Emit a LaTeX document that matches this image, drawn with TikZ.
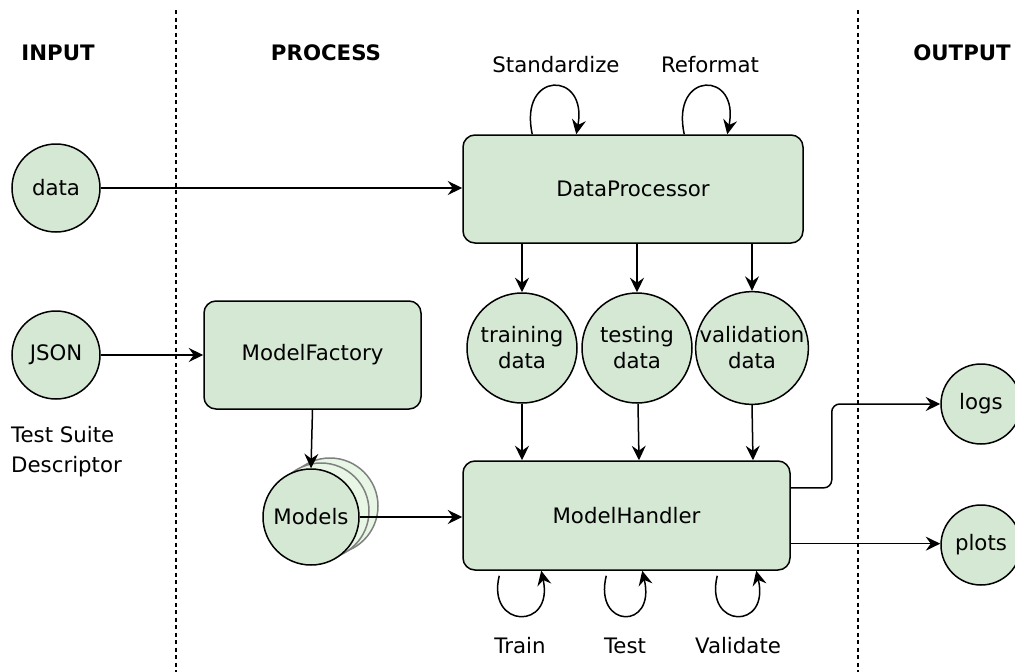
\documentclass[tikz,border=0pt]{standalone}
\usepackage{fontspec}
\setmainfont{DejaVu Sans}
\usetikzlibrary{arrows.meta,calc}
\definecolor{boxgreen}{HTML}{D5E8D4}
\definecolor{ghostgreen}{HTML}{E7F6E5}
\definecolor{ghostline}{HTML}{808080}
\begin{document}
\begin{tikzpicture}[x=1pt,y=-1pt,
  font=\fontsize{21.3}{26}\selectfont,
  >={Stealth[length=14.5pt,width=14pt,inset=5pt]},
  conn/.style={draw,line width=1.5pt,->},
  procbox/.style={draw,line width=1.5pt,fill=boxgreen,rounded corners=12pt,inner sep=0pt},
  datanode/.style={draw,line width=1.5pt,fill=boxgreen,circle,inner sep=0pt,align=center},
  ghost/.style={draw=ghostline,line width=1.5pt,fill=ghostgreen,circle,inner sep=0pt},
  heading/.style={font=\fontsize{21.3}{26}\selectfont\bfseries},
  divider/.style={line width=1.4pt,dash pattern=on 4pt off 3.5pt}]
\useasboundingbox (0,0) rectangle (1015,672);

% column dividers
\draw[divider] (176,10) -- (176,672);
\draw[divider] (858,10) -- (858,672);

% column headings
\node[heading] (hin) at (58,53) {INPUT};
\node[heading] (hproc) at (326,53) {PROCESS};
\node[heading] (hout) at (962,53) {OUTPUT};

% inputs
\node[datanode,minimum size=88pt] (data) at (56,188) {data};
\node[datanode,minimum size=88pt] (json) at (56,355) {JSON};
\node[align=left,anchor=north west,inner sep=0pt,font=\fontsize{21.3}{30}\selectfont] (desc) at (11,426) {Test Suite\\Descriptor};

% process blocks
\node[procbox,minimum width=340pt,minimum height=108pt] (dp) at (633,189) {DataProcessor};
\node[procbox,minimum width=217pt,minimum height=108pt] (mf) at (312.5,355) {ModelFactory};
\node[procbox,minimum width=327pt,minimum height=109pt] (mh) at (626.5,515.5) {ModelHandler};

% stacked model circles
\node[ghost,minimum size=96pt] (models3) at (330,506) {};
\node[ghost,minimum size=96pt] (models2) at (321,511) {};
\node[datanode,minimum size=96pt] (models) at (311,517) {Models};

% data splits
\node[datanode,minimum size=110pt] (train) at (522,348) {training\\data};
\node[datanode,minimum size=110pt] (test) at (637,348) {testing\\data};
\node[datanode,minimum size=110pt] (valid) at (752,348) {validation\\data};

% outputs
\node[datanode,minimum size=80pt] (logs) at (981,404) {logs};
\node[datanode,minimum size=80pt] (plots) at (981,545) {plots};

% loop labels
\node (lstd) at (556,65) {Standardize};
\node (lref) at (710,65) {Reformat};
\node (ltrain) at (520,646) {Train};
\node (ltest) at (625,646) {Test};
\node (lvalid) at (738,646) {Validate};

% main flow
\draw[conn] (data.east) -- (dp.west |- data.east);
\draw[conn] (json.east) -- (mf.west |- json.east);
\draw[conn] (mf.south) -- (models.north);
\draw[conn] (models.east) -- (mh.west |- models.east);

\draw[conn] (dp.south -| train) -- (train.north);
\draw[conn] (dp.south -| test) -- (test.north);
\draw[conn] (dp.south -| valid) -- (valid.north);
\draw[conn] (train.south) -- (mh.north -| train);
\draw[conn] ($(test.south)+(1,0)$) -- ($(mh.north -| test)+(2,0)$);
\draw[conn] (valid.south) -- ($(mh.north -| valid)+(1,0)$);

\coordinate (tologs) at ($(mh.north east)!0.25!(mh.south east)$);
\coordinate (toplots) at ($(mh.north east)!0.755!(mh.south east)$);
\draw[conn,rounded corners=8pt] (tologs) -- ++(41,0) |- (logs.west);
\draw[conn] (toplots) -- (plots.west |- toplots);

% self loops on the data processor
\draw[conn] ($(dp.north west)+(70,0)$) .. controls ($(dp.north west)+(56,-64)$) and ($(dp.north west)+(126,-64)$) .. ($(dp.north west)+(114,0)$);
\draw[conn] ($(dp.north west)+(222,0)$) .. controls ($(dp.north west)+(208,-64)$) and ($(dp.north west)+(278,-64)$) .. ($(dp.north west)+(265,0)$);

% self loops on the model handler
\draw[conn] ($(mh.south west)+(37,5)$) .. controls ($(mh.south west)+(24,58)$) and ($(mh.south west)+(92,60)$) .. ($(mh.south west)+(79,0)$);
\draw[conn] ($(mh.south west)+(144,5)$) .. controls ($(mh.south west)+(131,58)$) and ($(mh.south west)+(194,60)$) .. ($(mh.south west)+(180,0)$);
\draw[conn] ($(mh.south west)+(255,5)$) .. controls ($(mh.south west)+(242,58)$) and ($(mh.south west)+(308,60)$) .. ($(mh.south west)+(294,0)$);
\end{tikzpicture}
\end{document}
